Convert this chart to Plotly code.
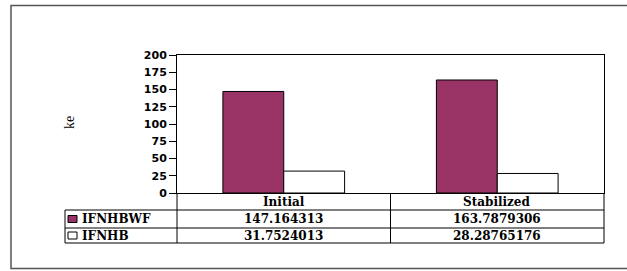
import plotly.graph_objects as go

categories = ["Initial", "Stabilized"]
series_names = ["IFNHBWF", "IFNHB"]
ifnhbwf = [147.164313, 163.7879306]
ifnhb = [31.7524013, 28.28765176]
value_labels = [["147.164313", "163.7879306"], ["31.7524013", "28.28765176"]]
tick_vals = [0, 25, 50, 75, 100, 125, 150, 175, 200]
y_title = "ke"

W, H = 627, 271
L, R, T, B = 177, 604, 55, 193  # plot area in pixels


def px(x):
    return (x - L) / (R - L)


def py(y):
    return (B - y) / (B - T)


fig = go.Figure()
fig.add_trace(go.Bar(x=categories, y=ifnhbwf, name=series_names[0],
                     marker=dict(color="#993366", line=dict(color="black", width=1))))
fig.add_trace(go.Bar(x=categories, y=ifnhb, name=series_names[1],
                     marker=dict(color="white", line=dict(color="black", width=1))))

shapes = []
line = dict(color="black", width=1)
# outer chart border (right edge lies beyond the picture)
shapes.append(dict(type="rect", xref="paper", yref="paper", x0=px(11), x1=px(640),
                   y0=py(268.5), y1=py(5.5), line=dict(color="#555555", width=1.5)))
# table horizontal lines
for yy in [210, 228, 243]:
    shapes.append(dict(type="line", xref="paper", yref="paper", x0=px(65), x1=px(R),
                       y0=py(yy), y1=py(yy), line=line))
# table vertical lines
mid = (L + R) / 2
for xx in [L, mid, R]:
    shapes.append(dict(type="line", xref="paper", yref="paper", x0=px(xx), x1=px(xx),
                       y0=py(193), y1=py(243), line=line))
shapes.append(dict(type="line", xref="paper", yref="paper", x0=px(65), x1=px(65),
                   y0=py(210), y1=py(243), line=line))
# legend keys
key_colors = ["#993366", "white"]
row_centers = [219, 235.5]
for c, yc in zip(key_colors, row_centers):
    shapes.append(dict(type="rect", xref="paper", yref="paper", x0=px(68), x1=px(77),
                       y0=py(yc + 3.5), y1=py(yc - 3.5), fillcolor=c,
                       line=dict(color="black", width=1)))

annotations = []
serif = dict(family="DejaVu Serif", size=12, color="black", weight="bold")
col_centers = [(L + mid) / 2, (mid + R) / 2]
for cat, xc in zip(categories, col_centers):
    annotations.append(dict(xref="paper", yref="paper", x=px(xc), y=py(201.5),
                            text=cat, showarrow=False, font=serif,
                            xanchor="center", yanchor="middle"))
for name, labels, yc in zip(series_names, value_labels, row_centers):
    annotations.append(dict(xref="paper", yref="paper", x=px(80), y=py(yc),
                            text=name, showarrow=False, font=serif,
                            xanchor="left", yanchor="middle"))
    for lab, xc in zip(labels, col_centers):
        annotations.append(dict(xref="paper", yref="paper", x=px(xc), y=py(yc),
                                text=lab, showarrow=False, font=serif,
                                xanchor="center", yanchor="middle"))
annotations.append(dict(xref="paper", yref="paper", x=px(69), y=py(123), text=y_title,
                        textangle=-90, showarrow=False,
                        font=dict(family="Liberation Serif", size=14, color="black"),
                        xanchor="center", yanchor="middle"))

fig.update_layout(
    width=W, height=H,
    margin=dict(l=L, r=W - R, t=T, b=H - B, pad=0),
    paper_bgcolor="white", plot_bgcolor="white",
    showlegend=False,
    barmode="group", bargap=0.43, bargroupgap=0,
    xaxis=dict(showticklabels=False, ticks="", showline=True, linecolor="black",
               linewidth=1, mirror=True, showgrid=False),
    yaxis=dict(range=[0, 200], tickvals=tick_vals, ticks="outside", ticklen=7,
               tickcolor="black", showline=True, linecolor="black", linewidth=1,
               mirror=True, showgrid=False, zeroline=False,
               tickfont=dict(family="DejaVu Sans", size=11, color="black", weight="bold")),
    shapes=shapes, annotations=annotations,
)

fig.write_html("out.html", config={"displayModeBar": False},
               post_script="document.body.style.margin='0';document.body.style.overflow='hidden';")
